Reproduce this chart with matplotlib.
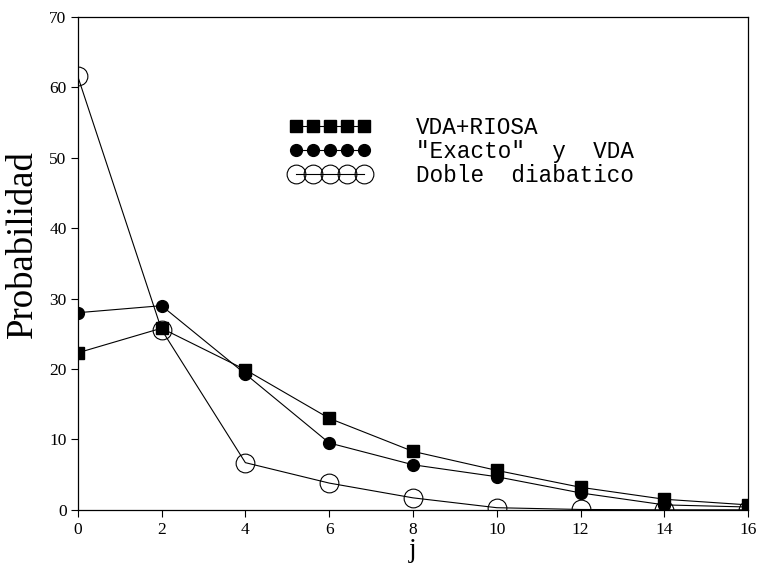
import numpy as np
import matplotlib
matplotlib.use('Agg')
import matplotlib.pyplot as plt

# Datos leidos por serie
j = [0, 2, 4, 6, 8, 10, 12, 14, 16]
vda_riosa = [22.3, 25.8, 19.9, 13.0, 8.3, 5.6, 3.2, 1.5, 0.7]
exacto_vda = [28.0, 29.0, 19.3, 9.5, 6.4, 4.7, 2.4, 0.7, 0.4]
doble_diab = [61.6, 25.6, 6.7, 3.8, 1.7, 0.3, 0.05, 0.0, 0.0]

etiquetas = ['VDA+RIOSA', '"Exacto"  y  VDA', 'Doble  diabatico']

fig = plt.figure(figsize=(7.62, 5.69), dpi=100)
ax = fig.add_axes([0.102, 0.104, 0.880, 0.866])

ax.plot(j, vda_riosa, color='black', lw=0.8, marker='s', ms=8.5,
        mfc='black', mec='black', label=etiquetas[0])
ax.plot(j, exacto_vda, color='black', lw=0.8, marker='o', ms=8.5,
        mfc='black', mec='black', label=etiquetas[1])
ax.plot(j, doble_diab, color='black', lw=0.8, marker='o', ms=13.5,
        mfc='none', mec='black', mew=0.8, label=etiquetas[2])

ax.set_xlim(0, 16)
ax.set_ylim(0, 70)
ax.set_xticks(j)
ax.set_yticks(np.arange(0, 71, 10))
ax.tick_params(direction='out', length=5, width=0.8, labelsize=12.5)
ax.tick_params(axis='y', pad=3)
ax.tick_params(axis='x', pad=4)
for lab in ax.get_xticklabels() + ax.get_yticklabels():
    lab.set_fontfamily('Liberation Serif')

for s in ax.spines.values():
    s.set_linewidth(0.9)

ax.set_ylabel('Probabilidad', fontfamily='Liberation Serif', fontsize=26.5)
ax.yaxis.set_label_coords(-0.057, 0.54)
ax.set_xlabel('j', fontfamily='Liberation Serif', fontsize=20, labelpad=0)

leg = ax.legend(loc='upper left', bbox_to_anchor=(0.298, 0.822), frameon=False,
                numpoints=5, handlelength=3.6, handletextpad=2.0,
                labelspacing=0.05, borderpad=0,
                prop={'family': 'Liberation Mono', 'size': 16.3})

fig.savefig('out.png', dpi=100)
